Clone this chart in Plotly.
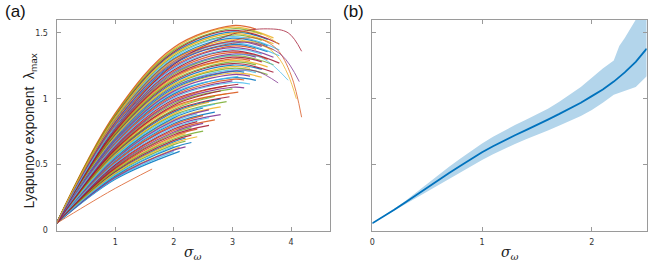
import plotly.graph_objects as go

PALETTE = ['#0072BD', '#D95319', '#EDB120', '#7E2F8E', '#77AC30', '#4DBEEE', '#A2142F']

# ---------------- panel (a): individual Lyapunov curves ----------------
start_y = 0.055
grid_x = [1, 2, 3]

curve_y1 = [0.389, 0.395, 0.402, 0.409, 0.415, 0.422, 0.429, 0.435, 0.442, 0.449,
            0.455, 0.462, 0.469, 0.475, 0.482, 0.489, 0.495, 0.502, 0.509, 0.515,
            0.522, 0.529, 0.535, 0.542, 0.549, 0.555, 0.562, 0.569, 0.575, 0.582,
            0.589, 0.595, 0.602, 0.609, 0.615, 0.622, 0.629, 0.635, 0.642, 0.649,
            0.655, 0.662, 0.669, 0.675, 0.682, 0.689, 0.695, 0.702, 0.709, 0.715,
            0.722, 0.729, 0.735, 0.742, 0.749, 0.755, 0.762, 0.769, 0.775, 0.782,
            0.789, 0.795, 0.802, 0.809, 0.815, 0.822, 0.829, 0.835, 0.842, 0.849,
            0.855, 0.862, 0.869, 0.875, 0.882, 0.889]
curve_y2 = [0.588, 0.599, 0.610, 0.620, 0.631, 0.642, 0.652, 0.663, 0.674, 0.684,
            0.695, 0.706, 0.716, 0.727, 0.738, 0.748, 0.759, 0.770, 0.780, 0.791,
            0.802, 0.812, 0.823, 0.834, 0.844, 0.855, 0.866, 0.876, 0.887, 0.898,
            0.908, 0.919, 0.930, 0.940, 0.951, 0.962, 0.973, 0.983, 0.994, 1.005,
            1.015, 1.026, 1.037, 1.047, 1.058, 1.069, 1.079, 1.090, 1.101, 1.111,
            1.122, 1.133, 1.143, 1.154, 1.165, 1.175, 1.186, 1.197, 1.207, 1.218,
            1.229, 1.239, 1.250, 1.261, 1.271, 1.282, 1.293, 1.303, 1.314, 1.325,
            1.335, 1.346, 1.357, 1.367, 1.378, 1.389]
curve_y3 = [0.655, 0.667, 0.679, 0.691, 0.703, 0.715, 0.727, 0.739, 0.751, 0.763,
            0.775, 0.787, 0.799, 0.811, 0.823, 0.835, 0.847, 0.859, 0.871, 0.883,
            0.895, 0.907, 0.919, 0.931, 0.943, 0.955, 0.967, 0.979, 0.991, 1.003,
            1.015, 1.027, 1.039, 1.051, 1.063, 1.075, 1.087, 1.099, 1.111, 1.123,
            1.135, 1.147, 1.159, 1.171, 1.183, 1.195, 1.207, 1.219, 1.231, 1.243,
            1.255, 1.267, 1.279, 1.291, 1.303, 1.315, 1.327, 1.339, 1.351, 1.363,
            1.375, 1.387, 1.399, 1.411, 1.423, 1.435, 1.447, 1.459, 1.471, 1.483,
            1.495, 1.507, 1.519, 1.531, 1.543, 1.555]
curve_xend = [2.1, 2.0, 2.2, 2.1, 2.3, 2.0, 2.2, 2.4, 2.2, 2.3,
              2.5, 2.2, 2.4, 2.6, 2.3, 2.5, 2.7, 2.4, 2.6, 2.8,
              2.5, 2.7, 2.4, 2.6, 2.8, 2.5, 2.7, 2.9, 2.6, 2.8,
              2.95, 2.7, 2.9, 3.1, 2.8, 3.0, 3.2, 2.9, 3.1, 3.3,
              3.0, 3.2, 3.4, 3.1, 3.3, 3.5, 3.2, 3.4, 3.6, 3.3,
              3.5, 3.7, 3.4, 3.6, 3.3, 3.5, 3.7, 3.4, 3.6, 3.8,
              3.5, 3.7, 3.4, 3.6, 3.8, 3.5, 3.7, 3.6, 3.8, 3.5,
              3.7, 3.6, 3.8, 3.5, 3.7, 3.4]
curve_yend = [0.601, 0.599, 0.635, 0.634, 0.668, 0.642, 0.679, 0.712, 0.702, 0.724,
              0.755, 0.735, 0.769, 0.798, 0.781, 0.813, 0.839, 0.827, 0.856, 0.879,
              0.872, 0.898, 0.884, 0.915, 0.939, 0.930, 0.958, 0.978, 0.974, 0.999,
              1.015, 1.017, 1.038, 1.050, 1.059, 1.075, 1.082, 1.098, 1.110, 1.112,
              1.135, 1.142, 1.139, 1.170, 1.172, 1.163, 1.202, 1.198, 1.184, 1.231,
              1.222, 1.201, 1.257, 1.242, 1.291, 1.280, 1.258, 1.316, 1.299, 1.270,
              1.338, 1.315, 1.375, 1.357, 1.326, 1.397, 1.371, 1.403, 1.370, 1.443,
              1.417, 1.449, 1.415, 1.490, 1.462, 1.528]

# individually read outlying curves
outlier_x = [[0, 0.5, 1.0, 1.63],
             [0, 1, 2, 3, 3.6, 3.95, 4.18],
             [0, 1, 2, 3, 3.4, 3.75, 4.0, 4.18],
             [0, 1, 2, 3, 3.4, 3.75, 3.95, 4.09],
             [0, 1, 2, 3, 3.4, 3.84, 4.14],
             [0, 1, 2, 3, 3.5, 3.95],
             [0, 1, 2, 3, 3.4, 3.78],
             [0, 1, 2, 3, 3.5, 3.8]]
outlier_y = [[0.055, 0.19, 0.32, 0.467],
             [0.055, 0.78, 1.26, 1.49, 1.53, 1.50, 1.36],
             [0.055, 0.84, 1.30, 1.44, 1.46, 1.38, 1.18, 0.86],
             [0.055, 0.83, 1.28, 1.42, 1.43, 1.33, 1.18, 1.00],
             [0.055, 0.82, 1.27, 1.42, 1.42, 1.33, 1.13],
             [0.055, 0.78, 1.20, 1.33, 1.31, 1.14],
             [0.055, 0.70, 1.09, 1.21, 1.21, 1.12],
             [0.055, 0.86, 1.34, 1.50, 1.49, 1.41]]
outlier_colors = ['#D95319', '#A2142F', '#D95319', '#EDB120', '#7E2F8E', '#4DBEEE', '#7E2F8E', '#EDB120']

# ---------------- panel (b): mean with spread ----------------
mean_x = [0, 0.1, 0.2, 0.3, 0.4, 0.5, 0.6, 0.7, 0.8, 0.9, 1.0, 1.1, 1.2,
          1.3, 1.4, 1.5, 1.6, 1.7, 1.8, 1.9, 2.0, 2.1, 2.2, 2.3, 2.4, 2.5]
mean_y = [0.055, 0.105, 0.158, 0.213, 0.27, 0.328, 0.383, 0.437, 0.49, 0.543, 0.594, 0.64, 0.683,
          0.723, 0.762, 0.80, 0.842, 0.883, 0.925, 0.97, 1.02, 1.07, 1.13, 1.20, 1.28, 1.38]
band_x = [0, 0.1, 0.2, 0.3, 0.4, 0.5, 0.6, 0.7, 0.8, 0.9, 1.0, 1.1, 1.2, 1.3,
          1.4, 1.5, 1.6, 1.7, 1.8, 1.9, 2.0, 2.1, 2.2, 2.25, 2.3, 2.4, 2.5]
band_hi = [0.055, 0.107, 0.165, 0.225, 0.29, 0.358, 0.423, 0.485, 0.545, 0.603, 0.66, 0.712, 0.758, 0.80,
           0.84, 0.88, 0.925, 0.975, 1.035, 1.09, 1.16, 1.23, 1.29, 1.40, 1.46, 1.60, 1.78]
band_lo = [0.055, 0.103, 0.152, 0.20, 0.25, 0.297, 0.345, 0.393, 0.44, 0.488, 0.535, 0.58, 0.62, 0.657,
           0.693, 0.728, 0.76, 0.795, 0.83, 0.87, 0.915, 0.97, 1.03, 1.045, 1.06, 1.09, 1.17]

a_xticks = [1, 2, 3, 4]
b_xticks = [0, 1, 2]
y_ticks = [0, 0.5, 1, 1.5]
y_ticklabels = ['0', '0.5', '1', '1.5']

fig = go.Figure()

n = len(curve_y1)
order = sorted(range(n), key=lambda k: (k * 29) % n)
for k in order:
    xe = curve_xend[k]
    xs, ys = [0], [start_y]
    for gx, gy in zip(grid_x, [curve_y1[k], curve_y2[k], curve_y3[k]]):
        if gx < xe - 0.12:
            xs.append(gx)
            ys.append(gy)
    xs.append(xe)
    ys.append(curve_yend[k])
    fig.add_trace(go.Scatter(x=xs, y=ys, mode='lines', xaxis='x', yaxis='y',
                             line=dict(color=PALETTE[(k * 5 + k // 3) % 7], width=1.2, shape='spline'),
                             opacity=0.85, showlegend=False, hoverinfo='skip'))
for xs, ys, c in zip(outlier_x, outlier_y, outlier_colors):
    fig.add_trace(go.Scatter(x=xs, y=ys, mode='lines', xaxis='x', yaxis='y',
                             line=dict(color=c, width=1, shape='spline'),
                             opacity=0.75, showlegend=False, hoverinfo='skip'))

fig.add_trace(go.Scatter(x=band_x + band_x[::-1], y=band_hi + band_lo[::-1],
                         mode='lines', fill='toself', fillcolor='#B3D5EB',
                         line=dict(width=0, color='#B3D5EB'), xaxis='x2', yaxis='y2',
                         showlegend=False, hoverinfo='skip'))
fig.add_trace(go.Scatter(x=mean_x, y=mean_y, mode='lines', xaxis='x2', yaxis='y2',
                         line=dict(color='#0072BD', width=1.8), showlegend=False, hoverinfo='skip'))

W, H = 648, 267
ytop, ybot = 20, 235
ydom = [1 - ybot / H, 1 - ytop / H]
axcol = '#9a9a9a'
tickfont = dict(family='DejaVu Sans', size=8, color='#333333')
common = dict(showline=True, linecolor=axcol, linewidth=1, mirror='ticks', ticks='inside',
              ticklen=4, tickcolor=axcol, showgrid=False, zeroline=False, tickfont=tickfont)

fig.update_layout(
    width=W, height=H, margin=dict(l=0, r=0, t=0, b=0),
    paper_bgcolor='white', plot_bgcolor='white',
    xaxis=dict(domain=[53.8 / W, 328.7 / W], range=[0, 4.667], tickvals=a_xticks,
               ticklabelstandoff=4, anchor='y', **common),
    yaxis=dict(domain=ydom, range=[0, 1.6], tickvals=y_ticks, ticktext=y_ticklabels,
               ticklabelstandoff=6, anchor='x', **common),
    xaxis2=dict(domain=[371 / W, 646.7 / W], range=[0, 2.5], tickvals=b_xticks,
                ticklabelstandoff=4, anchor='y2', **common),
    yaxis2=dict(domain=ydom, range=[0, 1.6], tickvals=y_ticks, showticklabels=False,
                anchor='x2', **common),
    annotations=[
        dict(text='(a)', x=0, y=1, xref='paper', yref='paper', xanchor='left', yanchor='top',
             showarrow=False, font=dict(family='Liberation Sans', size=17, color='#111111')),
        dict(text='(b)', x=340 / W, y=1, xref='paper', yref='paper', xanchor='left', yanchor='top',
             showarrow=False, font=dict(family='Liberation Sans', size=17, color='#111111')),
        dict(text='Lyapunov exponent  λ<sub>max</sub>', x=27 / W, y=1 - 133 / H, xref='paper', yref='paper',
             xanchor='center', yanchor='middle', textangle=-90, showarrow=False,
             font=dict(family='Liberation Sans', size=14, color='#222222')),
        dict(text='<i>σ</i><sub><i>ω</i></sub>', x=191.2 / W, y=1 - 258 / H, xref='paper', yref='paper',
             xanchor='center', yanchor='middle', showarrow=False,
             font=dict(family='DejaVu Serif', size=14, color='#222222')),
        dict(text='<i>σ</i><sub><i>ω</i></sub>', x=508.9 / W, y=1 - 258 / H, xref='paper', yref='paper',
             xanchor='center', yanchor='middle', showarrow=False,
             font=dict(family='DejaVu Serif', size=14, color='#222222')),
    ],
)

fig.write_html('out.html', config={'displayModeBar': False},
               post_script="document.body.style.margin='0';document.body.style.padding='0';")
